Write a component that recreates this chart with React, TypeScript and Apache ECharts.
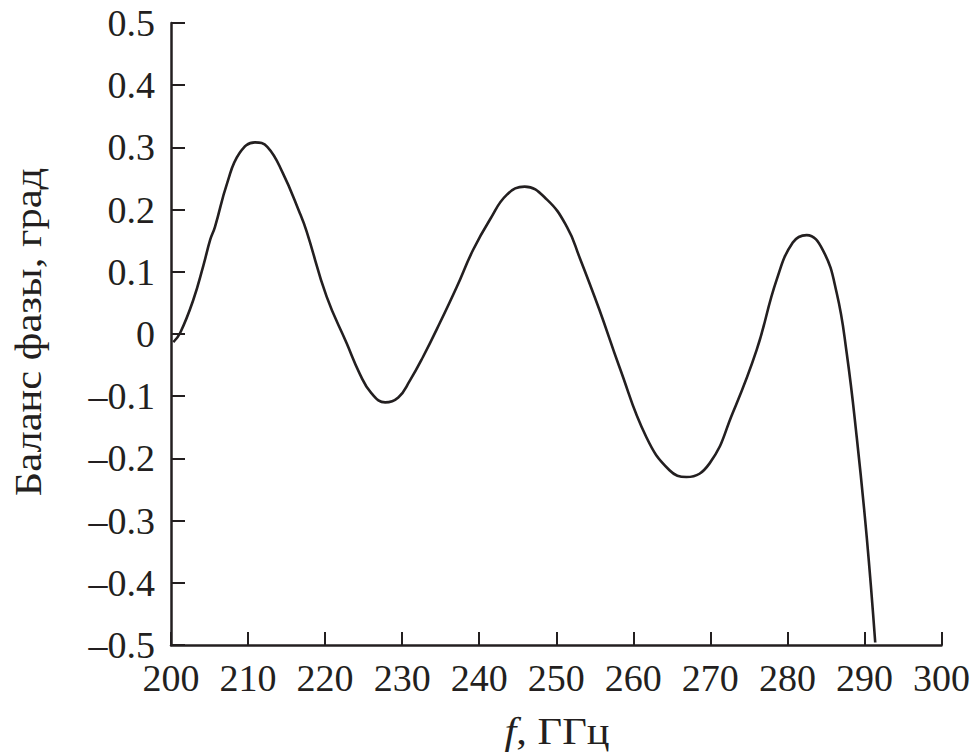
import React, { useEffect, useRef } from "react";
import * as echarts from "echarts";

const freqGHz = [
  200.3, 201.2, 202.9, 204.2, 205.1, 205.7, 207.3, 208.9, 210.9, 212.5, 214.5, 216.7, 217.6,
  220.2, 222.8, 224.5, 226.0, 227.8, 229.5, 231.0, 232.7, 234.9, 237.1, 239.2, 241.4, 243.6,
  245.9, 248.8, 251.4, 253.0, 255.6, 258.2, 261.7, 264.7, 266.9, 269.9, 272.9, 276.0, 278.6,
  280.7, 282.5, 284.6, 286.4, 287.7, 289.0, 290.3, 291.4,
];
const phaseBalance = [
  -0.013, 0.002, 0.055, 0.11, 0.152, 0.172, 0.243, 0.291, 0.308, 0.301, 0.259, 0.195, 0.165,
  0.06, -0.015, -0.064, -0.095, -0.11, -0.102, -0.075, -0.037, 0.018, 0.076, 0.135, 0.184, 0.224,
  0.237, 0.216, 0.172, 0.124, 0.039, -0.053, -0.166, -0.219, -0.23, -0.208, -0.127, -0.026, 0.087,
  0.147, 0.159, 0.135, 0.066, -0.031, -0.166, -0.327, -0.496,
];

const yTickValues = [-0.5, -0.4, -0.3, -0.2, -0.1, 0, 0.1, 0.2, 0.3, 0.4, 0.5];
const yAxisTitle = "Баланс фазы, град";
const xAxisTitleItalic = "f";
const xAxisTitleRest = ", ГГц";

const FONT = "'Liberation Serif', 'DejaVu Serif', serif";
const INK = "#231f20";

export default function App() {
  const ref = useRef<HTMLDivElement>(null);
  useEffect(() => {
    if (!ref.current) return;
    const chart = echarts.init(ref.current, undefined, { renderer: "svg" });
    const data = freqGHz.map((f, i) => [f, phaseBalance[i]]);
    chart.setOption({
      animation: false,
      backgroundColor: "#ffffff",
      grid: { left: 171, right: 31, top: 23, bottom: 110 },
      xAxis: {
        type: "value",
        min: 200,
        max: 300,
        interval: 10,
        splitLine: { show: false },
        axisLine: { onZero: false, lineStyle: { color: INK, width: 2.5 } },
        axisTick: { inside: true, length: 13, lineStyle: { color: INK, width: 2 } },
        axisLabel: { color: INK, fontFamily: FONT, fontSize: 38, margin: 14 },
      },
      yAxis: {
        type: "value",
        min: -0.5,
        max: 0.5,
        interval: 0.1,
        splitLine: { show: false },
        axisLine: { show: true, onZero: false, lineStyle: { color: INK, width: 2.5 } },
        axisTick: { show: true, inside: true, length: 14, lineStyle: { color: INK, width: 2 } },
        axisLabel: {
          color: INK,
          fontFamily: FONT,
          fontSize: 38,
          margin: 16,
          formatter: (v: number) => {
            let best = yTickValues[0];
            for (const t of yTickValues) if (Math.abs(t - v) < Math.abs(best - v)) best = t;
            if (best === 0) return "0";
            return best < 0 ? "\u2013" + Math.abs(best).toFixed(1) : best.toFixed(1);
          },
        },
      },
      graphic: [
        {
          type: "text",
          x: 28,
          y: 332,
          rotation: Math.PI / 2,
          scaleX: 1.12,
          style: {
            text: yAxisTitle,
            fontFamily: FONT,
            fontSize: 38,
            fill: INK,
            align: "center",
            verticalAlign: "middle",
          },
        },
        {
          type: "text",
          x: 557,
          y: 731,
          scaleX: 1.12,
          style: {
            text: "{i|" + xAxisTitleItalic + "}{n|" + xAxisTitleRest + "}",
            align: "center",
            verticalAlign: "middle",
            rich: {
              i: { fontFamily: FONT, fontSize: 38, fontStyle: "italic", fill: INK },
              n: { fontFamily: FONT, fontSize: 38, fill: INK },
            },
          },
        },
      ],
      series: [
        {
          type: "line",
          data,
          smooth: 0.45,
          showSymbol: false,
          lineStyle: { color: INK, width: 2.6 },
        },
      ],
    });
    return () => chart.dispose();
  }, []);
  return (
    <div
      ref={ref}
      style={{ position: "fixed", left: 0, top: 0, width: 973, height: 755, background: "#fff" }}
    />
  );
}
